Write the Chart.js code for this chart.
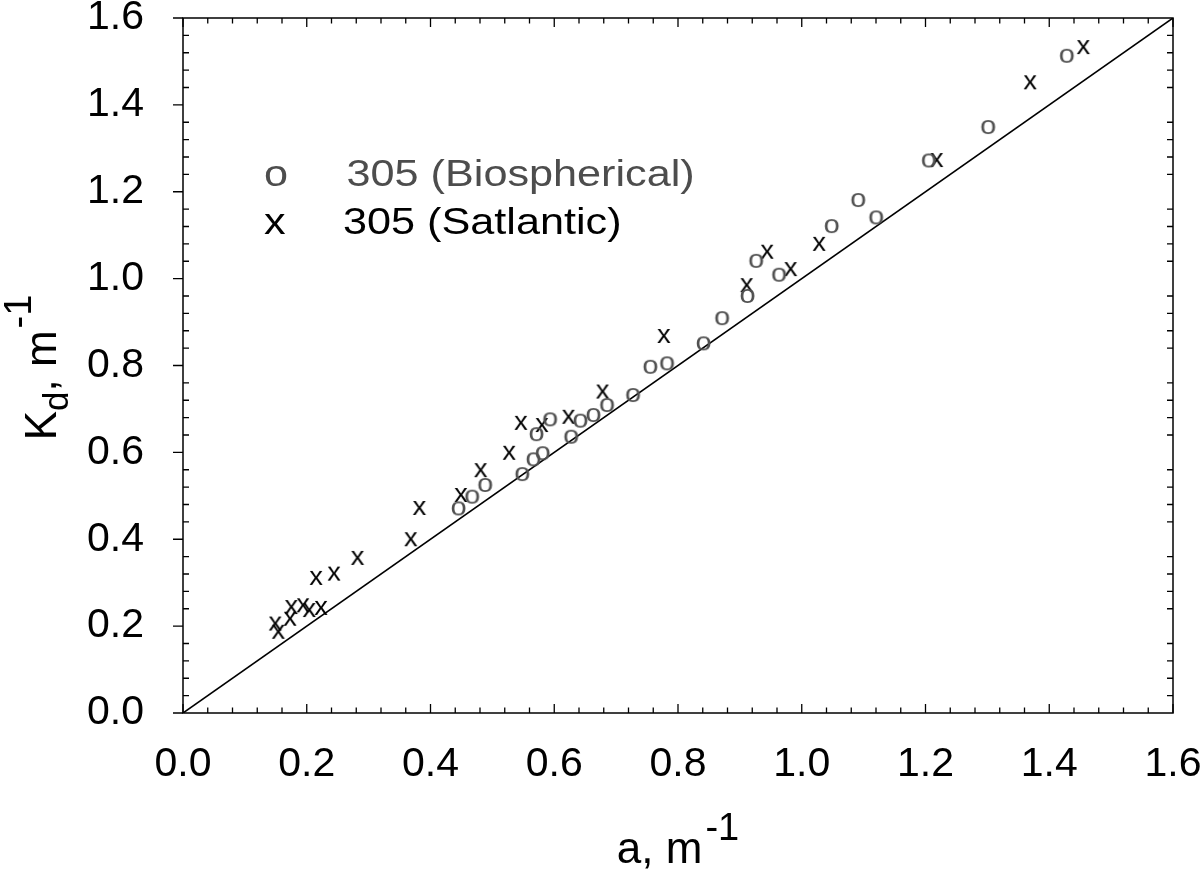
<!DOCTYPE html>
<html>
<head>
<meta charset="utf-8">
<script src="https://cdn.jsdelivr.net/npm/chart.js@4/dist/chart.umd.min.js"></script>
<style>
  html, body { margin: 0; padding: 0; background: #fff; }
  #quadro { width: 1204px; height: 871px; }
</style>
</head>
<body>
<div id="quadro"><canvas id="grafico"></canvas></div>
<script>
// absorção (a) e Kd para os dois radiômetros
const biosphericalA = [0.446, 0.468, 0.489, 0.549, 0.567, 0.572, 0.582, 0.594, 0.628, 0.643, 0.664, 0.686, 0.728,
  0.756, 0.783, 0.842, 0.872, 0.913, 0.927, 0.964, 1.049, 1.092, 1.121, 1.206, 1.302, 1.429];
const biosphericalKd = [0.471, 0.498, 0.525, 0.550, 0.584, 0.642, 0.598, 0.676, 0.636, 0.673, 0.686, 0.709, 0.732,
  0.797, 0.805, 0.851, 0.909, 0.960, 1.041, 1.009, 1.121, 1.181, 1.141, 1.272, 1.349, 1.513];
const satlanticA = [0.149, 0.154, 0.173, 0.175, 0.194, 0.204, 0.215, 0.223, 0.244, 0.282, 0.368, 0.382, 0.449, 0.481,
  0.527, 0.546, 0.580, 0.623, 0.678, 0.777, 0.911, 0.944, 0.982, 1.028, 1.218, 1.369, 1.455];
const satlanticKd = [0.206, 0.187, 0.217, 0.244, 0.248, 0.237, 0.311, 0.242, 0.321, 0.357, 0.400, 0.472, 0.502, 0.559,
  0.599, 0.668, 0.663, 0.682, 0.740, 0.868, 0.985, 1.062, 1.022, 1.080, 1.273, 1.452, 1.533];
// reta 1:1
const retaA = [0, 1.6];
const retaKd = [0, 1.6];
const legendas = ["305 (Biospherical)", "305 (Satlantic)"];
const eixoMin = 0, eixoMax = 1.6, passoMaior = 0.2, passoMenor = 0.04;

const fonte = '"Liberation Sans", Arial, Helvetica, sans-serif';

// marcador desenhado com a própria letra (o / x), um pouco alargada
function criaMarcador(letra, cor, tam, esticar) {
  const c = document.createElement('canvas');
  c.width = 30; c.height = 30;
  const g = c.getContext('2d');
  g.font = tam + 'px ' + fonte;
  const m = g.measureText(letra);
  const w = (m.actualBoundingBoxLeft + m.actualBoundingBoxRight) * esticar;
  const h = m.actualBoundingBoxAscent + m.actualBoundingBoxDescent;
  g.fillStyle = cor;
  g.translate((c.width - w) / 2 + m.actualBoundingBoxLeft * esticar, (c.height - h) / 2 + m.actualBoundingBoxAscent);
  g.scale(esticar, 1);
  g.fillText(letra, 0, 0);
  return c;
}

const pontos = (xs, ys) => xs.map((v, i) => ({ x: v, y: ys[i] }));

// moldura com marcas para dentro (maiores à esquerda para fora)
const marcasEixos = {
  id: 'marcasEixos',
  afterDatasetsDraw(chart) {
    const { ctx, chartArea: a, scales: { x, y } } = chart;
    ctx.save();
    ctx.strokeStyle = '#000';
    ctx.lineWidth = 1.5;
    ctx.strokeRect(a.left, a.top, a.right - a.left, a.bottom - a.top);
    ctx.lineWidth = 1.3;
    ctx.beginPath();
    const n = Math.round((eixoMax - eixoMin) / passoMenor);
    const cada = Math.round(passoMaior / passoMenor);
    for (let i = 0; i <= n; i++) {
      const v = eixoMin + i * passoMenor;
      const maior = i % cada === 0;
      const px = x.getPixelForValue(v);
      const py = y.getPixelForValue(v);
      ctx.moveTo(px, a.bottom); ctx.lineTo(px, a.bottom - (maior ? 9 : 5.5));
      ctx.moveTo(px, a.top); ctx.lineTo(px, a.top + (maior ? 9 : 5.5));
      if (maior) { ctx.moveTo(a.left, py); ctx.lineTo(a.left - 10, py); }
      else {
        ctx.moveTo(a.left, py); ctx.lineTo(a.left + 6, py);
        ctx.moveTo(a.right, py); ctx.lineTo(a.right - 6, py);
      }
    }
    ctx.stroke();
    ctx.restore();
  }
};

// texto com largura esticada (a fonte do gráfico é mais larga que a Arial)
function textoLargo(ctx, txt, x, y, esticar) {
  ctx.save();
  ctx.translate(x, y);
  ctx.scale(esticar, 1);
  ctx.fillText(txt, 0, 0);
  ctx.restore();
}

// títulos dos eixos com sub/sobrescrito e legenda
const textos = {
  id: 'textos',
  afterDraw(chart) {
    const { ctx, chartArea: a } = chart;
    ctx.save();
    ctx.fillStyle = '#000';
    ctx.textBaseline = 'alphabetic';

    // eixo x: a, m^-1
    ctx.font = '44px ' + fonte;
    const base = 'a, m';
    const wb = ctx.measureText(base).width;
    ctx.font = '38px ' + fonte;
    const ws = ctx.measureText('-1').width;
    const x0 = (a.left + a.right) / 2 - (wb + 3 + ws) / 2;
    ctx.font = '44px ' + fonte;
    ctx.fillText(base, x0, 863);
    ctx.font = '38px ' + fonte;
    ctx.fillText('-1', x0 + wb + 3, 840);

    // eixo y: Kd, m^-1
    ctx.save();
    ctx.translate(56, (a.top + a.bottom) / 2 + 2);
    ctx.rotate(-Math.PI / 2);
    ctx.font = '44px ' + fonte;
    const wK = ctx.measureText('K').width;
    const wm = ctx.measureText(', m').width;
    ctx.font = '35px ' + fonte;
    const wd = ctx.measureText('d').width;
    ctx.font = '38px ' + fonte;
    const ws2 = ctx.measureText('-1').width;
    const y0 = -(wK + wd + wm + 2 + ws2) / 2;
    ctx.font = '44px ' + fonte;
    ctx.fillText('K', y0, 0);
    ctx.font = '35px ' + fonte;
    ctx.fillText('d', y0 + wK, 12);
    ctx.font = '44px ' + fonte;
    ctx.fillText(', m', y0 + wK + wd, 0);
    ctx.font = '38px ' + fonte;
    ctx.fillText('-1', y0 + wK + wd + wm + 2, -25);
    ctx.restore();

    // legenda
    ctx.font = '36px ' + fonte;
    ctx.fillStyle = '#4d4d4d';
    textoLargo(ctx, 'o', 264, 186, 1.2);
    textoLargo(ctx, legendas[0], 346.5, 186, 1.2);
    ctx.fillStyle = '#000';
    textoLargo(ctx, 'x', 264, 234, 1.2);
    textoLargo(ctx, legendas[1], 343, 234, 1.2);
    ctx.restore();
  }
};

const marcadorO = criaMarcador('o', '#505050', 26, 1.12);
const marcadorX = criaMarcador('x', '#000', 26, 1.05);

new Chart(document.getElementById('grafico'), {
  type: 'scatter',
  data: {
    datasets: [
      {
        label: legendas[0],
        data: pontos(biosphericalA, biosphericalKd),
        pointStyle: marcadorO,
        pointRadius: 8
      },
      {
        label: legendas[1],
        data: pontos(satlanticA, satlanticKd),
        pointStyle: marcadorX,
        pointRadius: 8
      },
      {
        label: '1:1',
        data: pontos(retaA, retaKd),
        showLine: true,
        borderColor: '#000',
        borderWidth: 1.6,
        pointRadius: 0
      }
    ]
  },
  options: {
    responsive: true,
    maintainAspectRatio: false,
    animation: false,
    events: [],
    layout: { padding: { top: 18, right: 31, left: 0, bottom: 0 } },
    plugins: {
      legend: { display: false },
      tooltip: { enabled: false }
    },
    scales: {
      x: {
        type: 'linear',
        min: eixoMin,
        max: eixoMax,
        grid: { display: false },
        border: { display: false },
        ticks: {
          stepSize: passoMaior,
          color: '#000',
          padding: 19,
          font: { family: fonte, size: 41 },
          maxRotation: 0,
          callback: v => v.toFixed(1)
        },
        afterFit: s => { s.height = 158; s.paddingLeft = 0; s.paddingRight = 0; }
      },
      y: {
        type: 'linear',
        min: eixoMin,
        max: eixoMax,
        grid: { display: false },
        border: { display: false },
        ticks: {
          stepSize: passoMaior,
          color: '#000',
          padding: 31,
          font: { family: fonte, size: 41 },
          callback: v => v.toFixed(1)
        },
        afterFit: s => { s.width = 183; s.paddingTop = 0; s.paddingBottom = 0; }
      }
    }
  },
  plugins: [marcasEixos, textos]
});
</script>
</body>
</html>
